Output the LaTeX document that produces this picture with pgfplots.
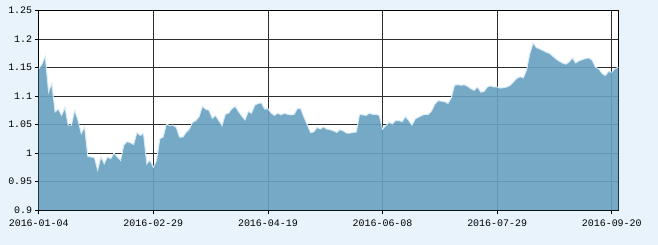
\documentclass[border=0pt]{standalone}
\usepackage{fontspec}
\setmonofont{Liberation Mono}
\usepackage{pgfplots}
\usepackage{pgfplotstable}
\pgfplotsset{compat=1.18}
\definecolor{bgcol}{RGB}{232,243,251}
\definecolor{areacol}{RGB}{104,161,192}
\definecolor{edgecol}{RGB}{214,235,248}
\definecolor{gridcol}{RGB}{45,45,45}
\pgfplotstableread{
i v
0 1.148
1 1.156
2 1.170
3 1.107
4 1.122
5 1.072
6 1.077
7 1.066
8 1.080
9 1.049
10 1.049
11 1.075
12 1.057
13 1.034
14 1.046
15 0.994
16 0.993
17 0.992
18 0.970
19 0.993
20 0.981
21 0.993
22 0.990
23 1.000
24 0.993
25 0.987
26 1.014
27 1.020
28 1.018
29 1.015
30 1.036
31 1.031
32 1.034
33 0.981
34 0.987
35 0.975
36 0.987
37 1.025
38 1.028
39 1.051
40 1.048
41 1.049
42 1.045
43 1.028
44 1.028
45 1.036
46 1.042
47 1.054
48 1.057
49 1.064
50 1.082
51 1.077
52 1.075
53 1.061
54 1.066
55 1.057
56 1.048
57 1.068
58 1.070
59 1.078
60 1.082
61 1.073
62 1.065
63 1.058
64 1.073
65 1.070
66 1.084
67 1.087
68 1.088
69 1.077
70 1.078
71 1.070
72 1.066
73 1.070
74 1.067
75 1.070
76 1.068
77 1.067
78 1.068
79 1.078
80 1.078
81 1.063
82 1.050
83 1.036
84 1.037
85 1.045
86 1.042
87 1.046
88 1.042
89 1.041
90 1.039
91 1.036
92 1.041
93 1.039
94 1.035
95 1.035
96 1.036
97 1.037
98 1.068
99 1.067
100 1.066
101 1.070
102 1.068
103 1.068
104 1.066
105 1.042
106 1.048
107 1.054
108 1.051
109 1.057
110 1.057
111 1.055
112 1.064
113 1.057
114 1.049
115 1.060
116 1.063
117 1.066
118 1.068
119 1.068
120 1.074
121 1.086
122 1.092
123 1.091
124 1.090
125 1.087
126 1.097
127 1.119
128 1.120
129 1.119
130 1.120
131 1.117
132 1.113
133 1.110
134 1.116
135 1.107
136 1.108
137 1.116
138 1.118
139 1.116
140 1.116
141 1.114
142 1.115
143 1.116
144 1.119
145 1.125
146 1.131
147 1.134
148 1.132
149 1.146
150 1.175
151 1.193
152 1.185
153 1.183
154 1.180
155 1.177
156 1.175
157 1.170
158 1.165
159 1.161
160 1.158
161 1.156
162 1.160
163 1.167
164 1.158
165 1.162
166 1.164
167 1.166
168 1.167
169 1.163
170 1.151
171 1.148
172 1.140
173 1.136
174 1.143
175 1.142
176 1.148
177 1.151
}\datatable
\begin{document}
\begin{tikzpicture}
\fill[bgcol] (0,0) rectangle (658bp,245bp);
\begin{axis}[
  at={(38.7bp,35bp)}, anchor=south west,
  scale only axis, width=579.6bp, height=199.3bp,
  xmin=0, xmax=177, ymin=0.9, ymax=1.25,
  xtick={0,35,70,105,140,175},
  xticklabels={2016-01-04,2016-02-29,2016-04-19,2016-06-08,2016-07-29,2016-09-20},
  ytick={0.9,0.95,1,1.05,1.1,1.15,1.2,1.25},
  yticklabels={0.9,0.95,1,1.05,1.1,1.15,1.2,1.25},
  tick align=outside, major tick length=4bp,
  tick style={black, line width=0.8bp},
  xtick pos=bottom, ytick pos=left,
  ticklabel style={font=\ttfamily\fontsize{10}{10}\selectfont, text=black},
  xticklabel style={yshift=-2.5bp},
  yticklabel style={xshift=1bp},
  grid=major,
  major grid style={gridcol, line width=0.8bp},
  axis line style={black, line width=0.9bp},
  axis background/.style={fill=white},
]
\addplot[fill=areacol, fill opacity=0.91, draw=none] table[x=i,y=v]{\datatable} \closedcycle;
\addplot[draw=edgecol, line width=0.9bp] table[x=i,y=v]{\datatable};
\end{axis}
\end{tikzpicture}
\end{document}
